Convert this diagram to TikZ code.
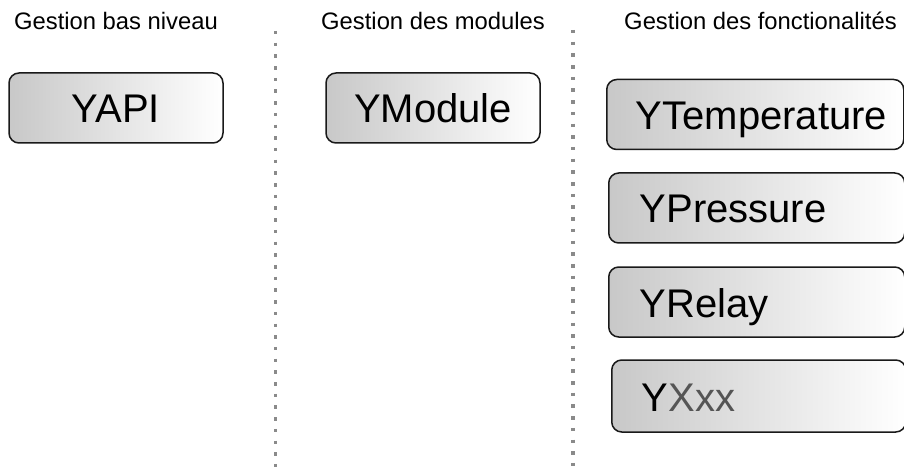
\documentclass[tikz,border=0pt]{standalone}
\usepackage{fontspec}
\setmainfont{Liberation Sans}
\definecolor{boxleft}{HTML}{C8C8C8}
\definecolor{dotgray}{HTML}{8A8A8A}
\definecolor{xxgray}{HTML}{555555}
\begin{document}
\begin{tikzpicture}[x=1pt,y=-1pt,
  modbox/.style={draw=black!90, line width=1.5pt, rounded corners=10pt,
    left color=boxleft, right color=white, minimum height=70pt,
    font=\fontsize{40}{45}\selectfont, text height=38pt, text depth=8pt},
  centerbox/.style={modbox, minimum width=214pt, inner xsep=0pt},
  title/.style={font=\fontsize{23.8}{27}\selectfont, anchor=base, inner sep=0pt},
  sep/.style={dotgray, line width=3.5pt, dash pattern=on 3.5pt off 8.2pt}]
\useasboundingbox (0,0) rectangle (904,470);
\begin{scope}
\clip (0,0) rectangle (904,470);
% titles
\node[title] (t1) at (116,30) {Gestion bas niveau};
\node[title] (t2) at (433,30) {Gestion des modules};
\node[title] (t3) at (760.5,30) {Gestion des fonctionalités};
% separators
\coordinate (s1a) at (275.5,31);
\coordinate (s1b) at (275.5,470);
\coordinate (s2a) at (573,30);
\coordinate (s2b) at (573,470);
\draw[sep] (s1a) -- (s1b);
\draw[sep] (s2a) -- (s2b);
% boxes
\node[centerbox] (yapi) at (116,108) {YAPI};
\node[centerbox] (ymodule) at (433,108) {YModule};
\node[modbox, inner xsep=29pt, anchor=west] (ytemp) at (606,114.5) {\makebox[239pt][l]{YTemperature}};
\node[modbox, inner xsep=31pt, anchor=west] (ypress) at (608,208) {\makebox[234pt][l]{YPressure}};
\node[modbox, inner xsep=31pt, anchor=west] (yrelay) at (608,302) {\makebox[234pt][l]{YRelay}};
\node[modbox, inner xsep=30pt, anchor=west, minimum height=72pt] (yxxx) at (611,396) {\makebox[234pt][l]{Y\textcolor{xxgray}{Xxx}}};
\end{scope}
\end{tikzpicture}
\end{document}
